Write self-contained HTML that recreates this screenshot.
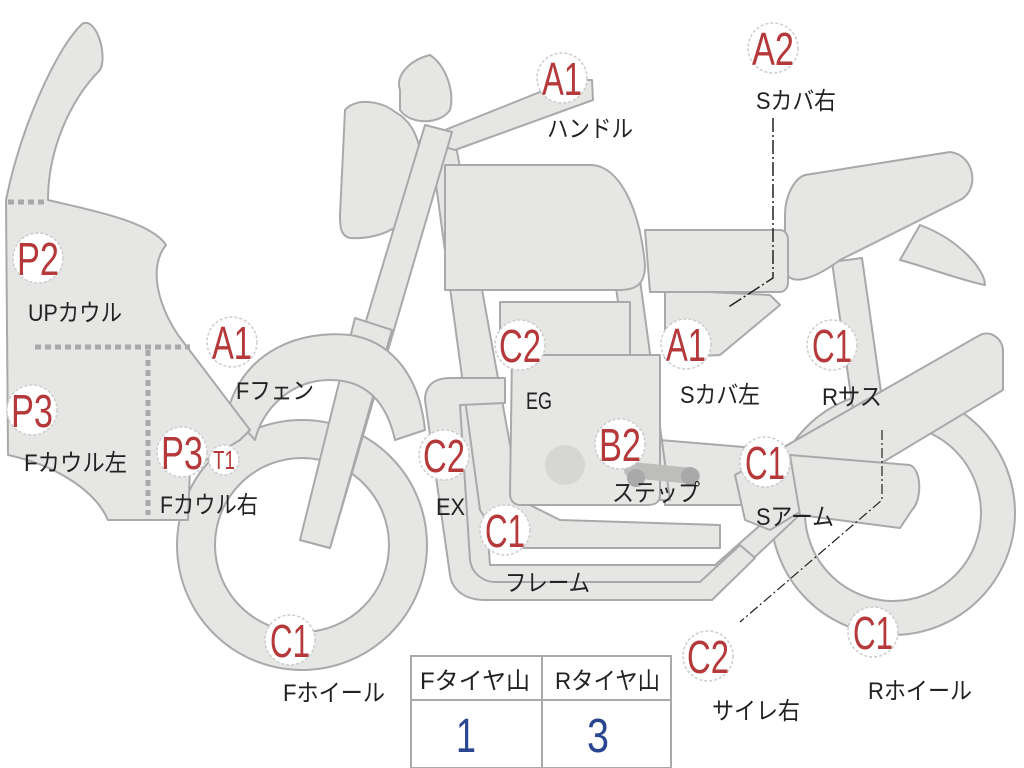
<!DOCTYPE html>
<html><head><meta charset="utf-8"><style>
html,body{margin:0;padding:0;background:#fff;width:1024px;height:768px;overflow:hidden}
svg{display:block}
.s{fill:#e6e6e4;stroke:#a9a9a9;stroke-width:2;stroke-linejoin:round}
.c{fill:#fff;stroke:#ccc;stroke-width:1.5;stroke-dasharray:3 2}
.r{fill:#b5393a;font-family:"Liberation Sans",sans-serif;font-size:46px;text-anchor:middle}
.t{fill:#222;font-family:"Liberation Sans","Noto Sans CJK JP",sans-serif;font-size:24px}
</style></head><body>
<svg width="1024" height="768" viewBox="0 0 1024 768">
<circle cx="893" cy="513" r="105" fill="none" stroke="#a9a9a9" stroke-width="36"/>
<circle cx="893" cy="513" r="105" fill="none" stroke="#e6e6e4" stroke-width="32"/>
<circle cx="302" cy="545" r="106" fill="none" stroke="#a9a9a9" stroke-width="40"/>
<circle cx="302" cy="545" r="106" fill="none" stroke="#e6e6e4" stroke-width="36"/>
<path class="s" d="M832,262 L862,258 L885,420 L855,424 Z"/>
<path class="s" d="M920,225 C960,240 985,270 985,285 C960,280 920,265 900,260 Z"/>
<path class="s" d="M805,175 L950,152 C975,155 980,190 960,200 L840,260 C820,275 790,290 785,270 L785,215 C785,195 795,178 805,175 Z"/>
<path class="s" d="M665,290 L770,295 L780,305 L720,355 L665,358 Z"/>
<path class="s" d="M645,230 L780,230 C786,230 788,236 788,240 L788,283 C788,288 784,292 780,292 L650,292 Z"/>
<path class="s" d="M440,380 L460,590 L720,590 L810,505 L800,490 L715,565 L490,565 L478,400 Z"/>
<path class="s" d="M660,440 L780,450 L785,505 L665,505 Z"/>
<path class="s" d="M430,140 L455,140 L520,500 L560,520 L720,525 L720,548 L505,548 L480,510 Z"/>
<path class="s" d="M615,280 L640,280 L670,500 L645,500 Z"/>
<path class="s" d="M425,400 C425,385 435,378 450,378 L505,378 L505,403 L460,405 L470,560 C472,575 485,582 495,582 L700,582 L740,545 L755,558 L712,600 L485,600 C465,600 452,590 450,575 Z"/>
<path class="s" d="M500,302 L630,302 L630,355 L500,355 Z"/>
<path class="s" d="M512,355 L660,355 L660,495 C660,502 655,505 648,505 L520,505 C514,505 510,500 510,494 Z"/>
<circle cx="565" cy="465" r="20" fill="#d6d6d4"/>
<path d="M632,470 L692,476" stroke="#bdbdbb" stroke-width="16" stroke-linecap="round"/>
<circle cx="636" cy="478" r="9" fill="#a9a9a9"/><circle cx="690" cy="476" r="9" fill="#a9a9a9"/>
<path class="s" d="M445,165 L590,165 C620,165 640,210 645,265 C645,285 635,290 620,290 L445,290 Z"/>
<path class="s" d="M420,140 L570,80 L592,80 L593,100 L455,150 Z"/>
<path class="s" d="M400,90 C395,75 410,60 430,55 C445,65 455,90 450,110 C440,125 410,125 400,110 Z"/>
<path class="s" d="M345,110 C355,98 380,100 395,112 C420,125 425,160 420,190 C415,225 380,240 350,238 C340,236 340,225 340,215 Z"/>
<path class="s" d="M425,125 L452,132 L330,548 L300,540 Z"/>
<path class="s" d="M355,318 L392,330 L330,548 L300,540 Z"/>
<path class="s" d="M228,410 C245,350 300,330 350,335 C395,342 420,380 425,430 L395,440 C385,395 360,380 330,380 C290,380 262,410 255,440 Z"/>
<path class="s" d="M735,475 L980,335 C990,330 1002,338 1003,350 L1003,390 L770,530 L745,520 Z"/>
<path class="s" d="M790,455 L910,465 C922,470 922,500 912,510 L900,528 L800,515 Z"/>
<path class="s" d="M82,24 C96,16 108,55 100,70 C70,100 48,150 48,200 C80,208 150,220 166,245 C150,265 155,300 178,335 L250,430 L240,440 L190,470 L188,520 L108,520 C95,490 55,465 8,455 L6,200 C20,130 55,50 82,24 Z"/>
<path d="M8,202 L48,202 M35,347 L190,347 M148,350 L148,515" stroke="#a9a9a9" stroke-width="5" stroke-dasharray="6 4" fill="none"/>
<path d="M773,118 L773,278 L727,308" stroke="#222" stroke-width="1.5" fill="none" stroke-dasharray="14 3 2 3"/>
<path d="M882,430 L882,500 L740,622" stroke="#222" stroke-width="1.2" fill="none" stroke-dasharray="10 3 2 3"/>
<g>
<circle class="c" cx="562" cy="78" r="25"/><text class="r" x="562" y="95" textLength="40" lengthAdjust="spacingAndGlyphs">A1</text>
<circle class="c" cx="773" cy="48" r="25"/><text class="r" x="773" y="65" textLength="42" lengthAdjust="spacingAndGlyphs">A2</text>
<circle class="c" cx="38" cy="258" r="25"/><text class="r" x="38" y="275" textLength="42" lengthAdjust="spacingAndGlyphs">P2</text>
<circle class="c" cx="232" cy="342" r="25"/><text class="r" x="232" y="359" textLength="40" lengthAdjust="spacingAndGlyphs">A1</text>
<circle class="c" cx="32" cy="410" r="25"/><text class="r" x="32" y="427" textLength="42" lengthAdjust="spacingAndGlyphs">P3</text>
<circle class="c" cx="182" cy="452" r="25"/><text class="r" x="182" y="469" textLength="42" lengthAdjust="spacingAndGlyphs">P3</text>
<circle class="c" cx="224" cy="460" r="15"/><text class="r" x="224" y="469" style="font-size:26px" textLength="22" lengthAdjust="spacingAndGlyphs">T1</text>
<circle class="c" cx="520" cy="345" r="25"/><text class="r" x="520" y="362" textLength="42" lengthAdjust="spacingAndGlyphs">C2</text>
<circle class="c" cx="686" cy="344" r="25"/><text class="r" x="686" y="361" textLength="40" lengthAdjust="spacingAndGlyphs">A1</text>
<circle class="c" cx="832" cy="345" r="25"/><text class="r" x="832" y="362" textLength="40" lengthAdjust="spacingAndGlyphs">C1</text>
<circle class="c" cx="444" cy="455" r="25"/><text class="r" x="444" y="472" textLength="42" lengthAdjust="spacingAndGlyphs">C2</text>
<circle class="c" cx="620" cy="444" r="25"/><text class="r" x="620" y="461" textLength="42" lengthAdjust="spacingAndGlyphs">B2</text>
<circle class="c" cx="765" cy="462" r="25"/><text class="r" x="765" y="479" textLength="40" lengthAdjust="spacingAndGlyphs">C1</text>
<circle class="c" cx="505" cy="530" r="25"/><text class="r" x="505" y="547" textLength="40" lengthAdjust="spacingAndGlyphs">C1</text>
<circle class="c" cx="290" cy="640" r="25"/><text class="r" x="290" y="657" textLength="40" lengthAdjust="spacingAndGlyphs">C1</text>
<circle class="c" cx="708" cy="656" r="25"/><text class="r" x="708" y="673" textLength="42" lengthAdjust="spacingAndGlyphs">C2</text>
<circle class="c" cx="873" cy="632" r="25"/><text class="r" x="873" y="649" textLength="40" lengthAdjust="spacingAndGlyphs">C1</text>
</g>
<g class="t">
<text x="547" y="137" textLength="86" lengthAdjust="spacingAndGlyphs">ハンドル</text>
<text x="756" y="109" textLength="80" lengthAdjust="spacingAndGlyphs">Sカバ右</text>
<text x="28" y="321" textLength="94" lengthAdjust="spacingAndGlyphs">UPカウル</text>
<text x="236" y="399" textLength="78" lengthAdjust="spacingAndGlyphs">Fフェン</text>
<text x="24" y="471" textLength="103" lengthAdjust="spacingAndGlyphs">Fカウル左</text>
<text x="160" y="513" textLength="98" lengthAdjust="spacingAndGlyphs">Fカウル右</text>
<text x="526" y="409" textLength="26" lengthAdjust="spacingAndGlyphs">EG</text>
<text x="680" y="403" textLength="80" lengthAdjust="spacingAndGlyphs">Sカバ左</text>
<text x="822" y="405" textLength="60" lengthAdjust="spacingAndGlyphs">Rサス</text>
<text x="436" y="515" textLength="29" lengthAdjust="spacingAndGlyphs">EX</text>
<text x="612" y="501" textLength="88" lengthAdjust="spacingAndGlyphs">ステップ</text>
<text x="756" y="525" textLength="78" lengthAdjust="spacingAndGlyphs">Sアーム</text>
<text x="505" y="591" textLength="85" lengthAdjust="spacingAndGlyphs">フレーム</text>
<text x="283" y="701" textLength="102" lengthAdjust="spacingAndGlyphs">Fホイール</text>
<text x="712" y="719" textLength="88" lengthAdjust="spacingAndGlyphs">サイレ右</text>
<text x="868" y="699" textLength="104" lengthAdjust="spacingAndGlyphs">Rホイール</text>
</g>
<rect x="411" y="656" width="260" height="112" fill="#fff" stroke="#a9a9a9" stroke-width="2"/>
<line x1="411" y1="700" x2="671" y2="700" stroke="#a9a9a9" stroke-width="2"/>
<line x1="542" y1="656" x2="542" y2="768" stroke="#a9a9a9" stroke-width="2"/>
<text class="t" x="420" y="689" textLength="110" lengthAdjust="spacingAndGlyphs">Fタイヤ山</text>
<text class="t" x="555" y="689" textLength="105" lengthAdjust="spacingAndGlyphs">Rタイヤ山</text>
<text x="466" y="752" fill="#2a4690" font-family="Liberation Sans,sans-serif" font-size="48" text-anchor="middle" textLength="20" lengthAdjust="spacingAndGlyphs">1</text>
<text x="598" y="752" fill="#2a4690" font-family="Liberation Sans,sans-serif" font-size="48" text-anchor="middle" textLength="22" lengthAdjust="spacingAndGlyphs">3</text>
</svg>
</body></html>
